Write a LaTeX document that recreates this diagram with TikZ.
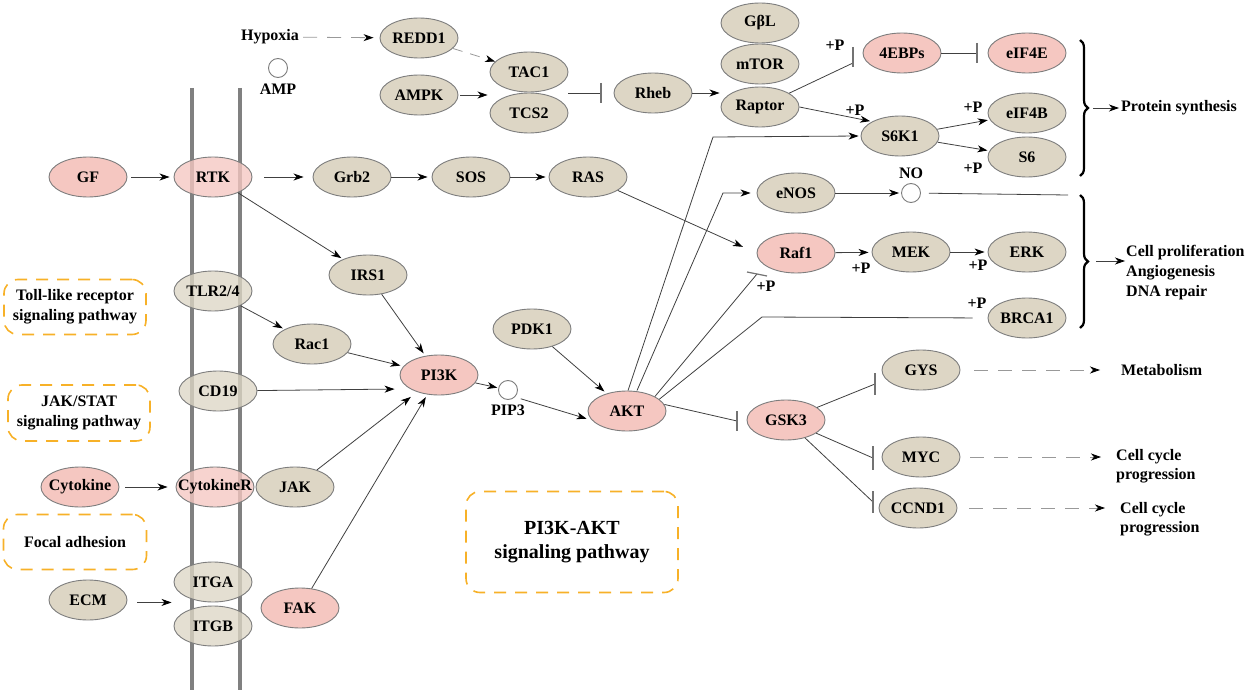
\documentclass[tikz,border=0pt]{standalone}
\usepackage{fontspec}
\setmainfont{Liberation Serif}
\usepackage{tikz}
\usetikzlibrary{shapes.geometric,arrows.meta,decorations.pathreplacing}

\definecolor{tanfill}{RGB}{221,214,197}
\definecolor{pinkfill}{RGB}{245,199,193}
\definecolor{edgegray}{RGB}{125,125,125}
\definecolor{boxorange}{RGB}{247,177,40}

\tikzset{
  gene/.style={ellipse, draw=edgegray, line width=0.9pt, fill=tanfill,
    minimum width=78pt, minimum height=40pt, inner xsep=-12pt, inner ysep=0pt,
    font=\bfseries\fontsize{16}{18}\selectfont},
  hot/.style={gene, fill=pinkfill},
  memb/.style={fill opacity=0.78, text opacity=1},
  mol/.style={circle, draw=edgegray, line width=0.9pt, fill=white, minimum size=19pt, inner sep=0pt},
  txt/.style={font=\bfseries\fontsize{16}{19}\selectfont, inner sep=1pt},
  pathbox/.style={draw=boxorange, line width=1.6pt, dash pattern=on 12pt off 9pt,
    rounded corners=14pt, align=center, font=\bfseries\fontsize{16}{20}\selectfont},
  act/.style={draw=black!75, line width=0.8pt, -{Stealth[length=10pt,width=7pt,inset=3pt,color=black]}},
  dsh/.style={act, draw=black!40, dash pattern=on 14pt off 10pt},
  ln/.style={draw=black!75, line width=0.8pt},
  barl/.style={draw=black!55, line width=1.2pt},
  inh/.style={ln, -{Bar[width=20pt,line width=1.2pt,color=black!55]}},
  brc/.style={decorate, decoration={brace, amplitude=8pt}, line width=2.2pt},
  memline/.style={draw=black!50, line width=3.5pt}
}

\begin{document}
\begin{tikzpicture}[x=1pt, y=-1pt]
  \useasboundingbox (0,0) rectangle (1248,690);

  % cell membrane
  \draw[memline] (192,88) -- (192,690);
  \draw[memline] (240,88) -- (240,690);

  % pathway boxes
  \node[pathbox, minimum width=142pt, minimum height=55pt] (tollbox) at (75,307) {Toll-like receptor\\signaling pathway};
  \node[pathbox, minimum width=142pt, minimum height=56pt] (jakbox) at (79,413) {JAK/STAT\\signaling pathway};
  \node[pathbox, minimum width=143pt, minimum height=55pt] (focbox) at (75,542) {Focal adhesion};
  \node[pathbox, minimum width=212pt, minimum height=101pt,
    font=\bfseries\fontsize{20}{24}\selectfont] (mainbox) at (572,542) {PI3K-AKT\\signaling pathway};

  % mTOR branch
  \node[txt] (hyp) at (270,37) {Hypoxia};
  \node[mol, label={[txt,label distance=5pt]below:AMP}] (amp) at (278,68) {};
  \node[gene] (redd1) at (419,38) {REDD1};
  \node[gene] (ampk) at (419,95) {AMPK};
  \node[gene] (tac1) at (529,72) {TAC1};
  \node[gene] (tcs2) at (529,113) {TCS2};
  \node[gene] (rheb) at (653,93) {Rheb};
  \node[gene] (gbl) at (760,23) {GβL};
  \node[gene] (mtor) at (760,64) {mTOR};
  \node[gene] (raptor) at (760,107) {Raptor};
  \node[hot] (ebp) at (902,53) {4EBPs};
  \node[hot] (eif4e) at (1027,53) {eIF4E};
  \node[gene] (s6k1) at (900,136) {S6K1};
  \node[gene] (eif4b) at (1027,113) {eIF4B};
  \node[gene] (s6) at (1027,157) {S6};

  % right side targets
  \node[mol, label={[txt,label distance=3pt]above:NO}] (no) at (911,193) {};
  \node[gene] (enos) at (796,193) {eNOS};
  \node[hot] (raf1) at (796,253) {Raf1};
  \node[gene] (mek) at (911,252) {MEK};
  \node[gene] (erk) at (1027,252) {ERK};
  \node[gene] (brca1) at (1027,318) {BRCA1};
  \node[gene] (gys) at (921,370) {GYS};
  \node[gene] (myc) at (921,457) {MYC};
  \node[gene] (ccnd1) at (918,508) {CCND1};
  \node[hot] (gsk3) at (786,420) {GSK3};
  \node[hot] (akt) at (627,411) {AKT};
  \node[gene] (pdk1) at (532,329) {PDK1};
  \node[hot] (pi3k) at (439,375) {PI3K};
  \node[mol, label={[txt,label distance=4pt]below:PIP3}] (pip3) at (508,390) {};

  % receptors
  \node[gene] (ras) at (588,177) {RAS};
  \node[gene] (sos) at (471,177) {SOS};
  \node[gene] (grb2) at (352,177) {Grb2};
  \node[hot] (gf) at (88,177) {GF};
  \node[hot,memb] (rtk) at (213,177) {RTK};
  \node[gene] (irs1) at (368,275) {IRS1};
  \node[gene,memb] (tlr) at (213,291) {TLR2/4};
  \node[gene] (rac1) at (312,344) {Rac1};
  \node[gene,memb] (cd19) at (218,391) {CD19};
  \node[hot] (cyt) at (80,487) {Cytokine};
  \node[hot,memb] (cytr) at (215,487) {CytokineR};
  \node[gene] (jak) at (295,487) {JAK};
  \node[hot] (fak) at (300,608) {FAK};
  \node[gene,memb] (itga) at (213,582) {ITGA};
  \node[gene,memb] (itgb) at (213,626) {ITGB};
  \node[gene] (ecm) at (88,600) {ECM};

  % phosphorylation marks
  \node[txt] (p1) at (835,45) {+P};
  \node[txt] (p2) at (855,110) {+P};
  \node[txt] (p3) at (973,107) {+P};
  \node[txt] (p4) at (973,168) {+P};
  \node[txt] (p5) at (861,268) {+P};
  \node[txt] (p6) at (978,265) {+P};
  \node[txt] (p7) at (977,303) {+P};
  \node[txt] (p8) at (766,286) {+P};

  % outcomes
  \node[txt, anchor=west] (psyn) at (1120,108) {Protein synthesis};
  \node[txt, anchor=west, align=left, font=\bfseries\fontsize{16}{20}\selectfont] (cellp) at (1125,273) {Cell proliferation\\Angiogenesis\\DNA repair};
  \node[txt, anchor=west] (metab) at (1120,370) {Metabolism};
  \node[txt, anchor=west, align=left] (cc1) at (1115,466) {Cell cycle\\progression};
  \node[txt, anchor=west, align=left] (cc2) at (1119,519) {Cell cycle\\progression};

  \coordinate (b1) at (1093,108);
  \coordinate (b2) at (1096,261);
  \coordinate (noend) at (1068,195);
  \coordinate (b4e) at (853,63);
  \coordinate (k1) at (713,137);
  \coordinate (k2) at (723,193);
  \coordinate (k3) at (762,317);
  \coordinate (braf) at (757,274);
  \coordinate (bgsk) at (737,421);
  \coordinate (bgys) at (875,384);
  \coordinate (bmyc) at (873,458);
  \coordinate (bccnd) at (873,502);

  % mTOR connectors
  \draw[dsh, shorten <=3pt, shorten >=6pt] (hyp) -- (redd1);
  \draw[dsh, dash pattern=on 10pt off 8pt] (redd1) -- (tac1);
  \draw[act, shorten <=2pt, shorten >=2pt] (ampk) -- (ampk -| tac1.west);
  \draw[inh] (rheb -| tac1.east) -- ([xshift=-12pt]rheb.west);
  \draw[act, shorten >=1pt] (rheb) -- (rheb -| raptor.west);
  \draw[ln] (raptor) -- (b4e);
  \draw[barl] ([yshift=16pt]b4e) -- ([yshift=-4pt]b4e);
  \draw[inh] (ebp) -- ([xshift=-10pt]eif4e.west);
  \draw[act, shorten >=2pt] (raptor.east) -- (s6k1.north west);
  \draw[act, shorten >=2pt] (s6k1) -- (eif4b);
  \draw[act, shorten >=2pt] (s6k1) -- (s6);

  % braces
  \draw[brc] (1080,40) -- (1080,176);
  \draw[brc] (1080,195) -- (1080,328);
  \draw[act, shorten >=1pt] (b1) -- (psyn.west);
  \draw[act] (b2) -- (b2 -| cellp.west);

  % AKT targets
  \draw[act, shorten >=2pt] (enos) -- (no);
  \draw[ln, shorten <=8pt] (no) -- (noend);
  \draw[act, shorten >=3pt] (raf1) -- (mek);
  \draw[act, shorten >=3pt] (mek) -- (erk);
  \draw[act, shorten >=15pt] (ras) -- (raf1.west);
  \draw[act, shorten >=2pt] ([xshift=1pt]akt.north) -- (k1) -- (s6k1.west);
  \draw[act, shorten >=6pt] ([xshift=10pt]akt.north) -- (k2) -- (enos.west);
  \draw[ln] (akt.north east) -- (braf);
  \draw[barl] ([shift={(-10,-2)}]braf) -- ([shift={(10,2)}]braf);
  \draw[ln, shorten >=15pt] (akt.20) -- (k3) -- (brca1.west);
  \draw[ln] (akt.10) -- (bgsk);
  \draw[barl] ([yshift=10pt]bgsk) -- ([yshift=-10pt]bgsk);
  \draw[ln] (gsk3) -- (bgys);
  \draw[barl] ([yshift=11pt]bgys) -- ([yshift=-11pt]bgys);
  \draw[ln] (gsk3) -- (bmyc);
  \draw[barl] ([yshift=12pt]bmyc) -- ([yshift=-12pt]bmyc);
  \draw[ln] (gsk3) -- (bccnd);
  \draw[barl] ([yshift=11pt]bccnd) -- ([yshift=-11pt]bccnd);
  \draw[dsh, shorten <=14pt, shorten >=20pt] (gys) -- (metab);
  \draw[dsh, shorten <=10pt, shorten >=14pt] (myc) -- (myc -| cc1.west);
  \draw[dsh, shorten <=12pt, shorten >=14pt] (ccnd1) -- (ccnd1 -| cc2.west);

  % upstream connectors
  \draw[act, shorten <=4pt, shorten >=4pt] (gf) -- (rtk);
  \draw[act, shorten <=12pt, shorten >=9pt] (rtk) -- (grb2);
  \draw[act, shorten >=4pt] (grb2) -- (sos);
  \draw[act, shorten >=3pt] (sos) -- (ras);
  \draw[act, shorten >=2pt] (rtk) -- (irs1);
  \draw[act, shorten >=3pt] (irs1) -- (pi3k);
  \draw[act, shorten >=2pt] (tlr) -- (rac1);
  \draw[act, shorten >=3pt] (rac1) -- (pi3k);
  \draw[act, shorten >=5pt] (cd19) -- ([yshift=-14pt]pi3k.west);
  \draw[act, shorten <=6pt, shorten >=8pt] (cyt) -- (cytr);
  \draw[act, shorten >=8pt] (jak) -- (pi3k);
  \draw[act, shorten >=3pt] (fak) -- (pi3k);
  \draw[act, shorten <=10pt, shorten >=2pt] (ecm.east |- itga.south) -- (itga.south -| itga.west);
  \draw[act, shorten >=1pt] (pi3k) -- (pip3);
  \draw[act, shorten <=6pt, shorten >=1pt] (pip3.south east) -- ([yshift=-8pt]akt.west);
  \draw[act, shorten >=3pt] (pdk1) -- (akt);
\end{tikzpicture}
\end{document}
